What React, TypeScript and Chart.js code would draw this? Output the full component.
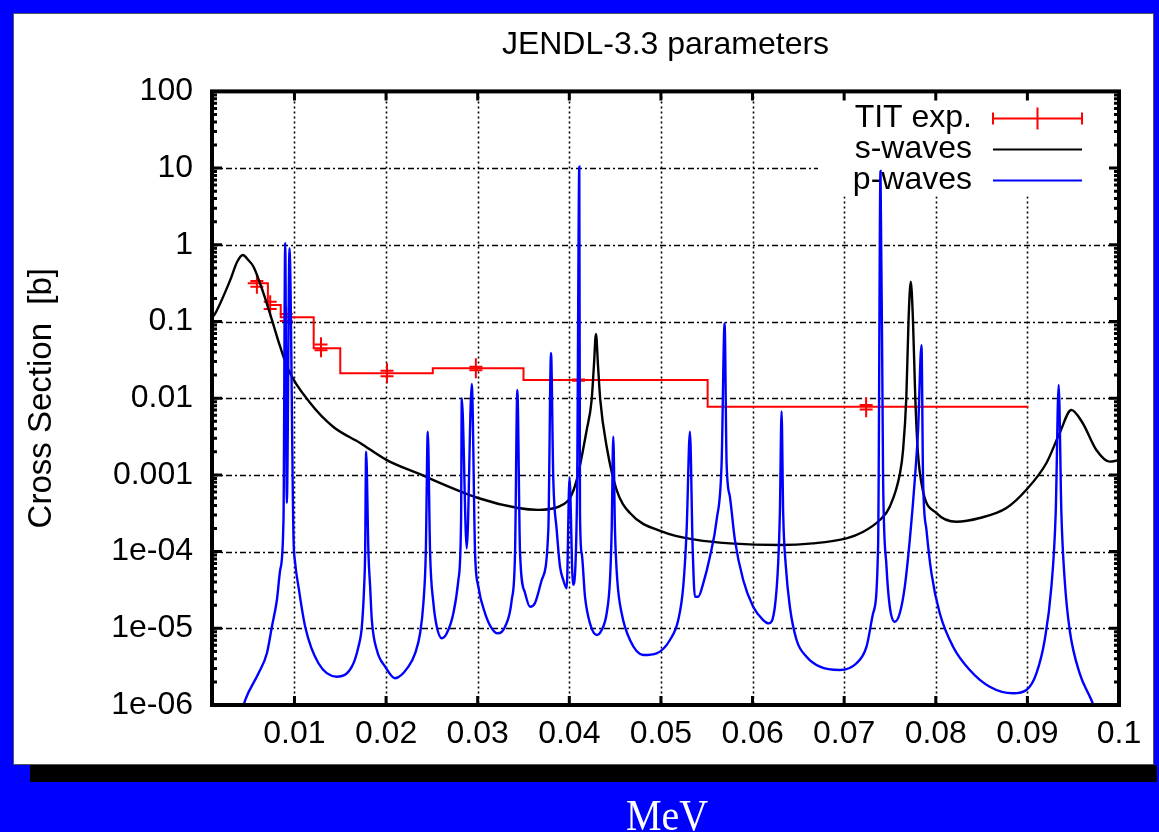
import React, { useEffect, useRef } from "react";
import { Chart, registerables } from "chart.js";

Chart.register(...registerables);

const FONT = "'Liberation Sans', Arial, Helvetica, sans-serif";

// ---- axis ticks ----
const xTickValues = [0.01, 0.02, 0.03, 0.04, 0.05, 0.06, 0.07, 0.08, 0.09, 0.1];
const xTickLabels = ["0.01", "0.02", "0.03", "0.04", "0.05", "0.06", "0.07", "0.08", "0.09", "0.1"];
const yTickValues = [1e-6, 1e-5, 1e-4, 1e-3, 1e-2, 1e-1, 1, 10, 100];
const yTickLabels = ["1e-06", "1e-05", "1e-04", "0.001", "0.01", "0.1", "1", "10", "100"];
const yMinorFactors = [2, 3, 4, 5, 6, 7, 8, 9];

// ---- TIT exp. histogram (step edges and levels) ----
const titStepX = [0.0049, 0.0071, 0.0085, 0.0121, 0.015, 0.0251, 0.035, 0.0551, 0.0901];
const titStepY = [0.315, 0.164, 0.1135, 0.0448, 0.0211, 0.0245, 0.0173, 0.00775, 0.00775];

// ---- TIT exp. measured points ----
const titPointX = [0.0059, 0.00735, 0.0091, 0.0129, 0.0201, 0.0298, 0.041, 0.0724];
const titPointY = [0.31, 0.163, 0.1135, 0.0462, 0.0211, 0.0245, 0.0172, 0.00764];
const titPointErr = [0.027, 0.018, 0.012, 0.0041, 0.0017, 0.0013, 0.0003, 0.0005];

// ---- s-waves ----
const sWaveX = [
  0.001, 0.00135, 0.00299, 0.00375, 0.00437, 0.00495, 0.00553, 0.00662, 0.00754, 0.00844,
  0.00935, 0.01172, 0.01422, 0.01717, 0.02008, 0.02335, 0.03004, 0.0344, 0.03659, 0.03844,
  0.03931, 0.04008, 0.04081, 0.0419, 0.04244, 0.04269, 0.04291, 0.04313, 0.04338, 0.04408,
  0.04517, 0.04662, 0.05022, 0.0539, 0.05753, 0.06298, 0.06658, 0.07026, 0.07204, 0.07389,
  0.07498, 0.0761, 0.07643, 0.07679, 0.07703, 0.07727, 0.07751, 0.07776, 0.07803, 0.07858,
  0.08008, 0.08226, 0.0848, 0.08771, 0.08989, 0.09208, 0.09353, 0.0948, 0.09603, 0.09753,
  0.09898, 0.1,
];
const sWaveY = [
  0.111, 0.127, 0.347, 0.6, 0.736, 0.634, 0.518, 0.233, 0.105, 0.0469,
  0.0233, 0.00865, 0.00425, 0.00261, 0.00156, 0.00106, 0.0005, 0.00037, 0.00035, 0.00037,
  0.00041, 0.0005, 0.00086, 0.00385, 0.0095, 0.0271, 0.069, 0.0271, 0.0095, 0.00233,
  0.000635, 0.000318, 0.000181, 0.000142, 0.000128, 0.000122, 0.000128, 0.000149, 0.00018, 0.000258,
  0.000385, 0.00106, 0.00211, 0.0105, 0.105, 0.33, 0.105, 0.0105, 0.00211, 0.000635,
  0.000318, 0.000245, 0.000274, 0.00037, 0.00064, 0.00143, 0.00352, 0.00702, 0.00475, 0.00211,
  0.00149, 0.00156,
];

// ---- p-waves ----
const pWaveX = [
  0.0041, 0.004625, 0.006076, 0.006992, 0.007538, 0.008083, 0.008443, 0.008803, 0.00899, 0.00917,
  0.00946, 0.009894, 0.010079, 0.010439, 0.01117, 0.012621, 0.014628, 0.016264, 0.016984, 0.017355,
  0.017606, 0.017715, 0.017824, 0.018075, 0.01826, 0.018446, 0.018991, 0.019896, 0.020987, 0.022438,
  0.023169, 0.023714, 0.024074, 0.024336, 0.024554, 0.024805, 0.025165, 0.025536, 0.026081, 0.026627,
  0.027347, 0.027892, 0.028187, 0.028263, 0.028808, 0.029354, 0.029714, 0.030074, 0.030804, 0.031535,
  0.03219, 0.032986, 0.033717, 0.034077, 0.034328, 0.034622, 0.035168, 0.035713, 0.036259, 0.036989,
  0.037709, 0.038004, 0.038255, 0.038626, 0.038986, 0.039346, 0.039716, 0.040022, 0.040404, 0.04084,
  0.041091, 0.041167, 0.041353, 0.041713, 0.042258, 0.042989, 0.043534, 0.04408, 0.04444, 0.044625,
  0.0448, 0.044985, 0.045236, 0.045716, 0.046621, 0.048072, 0.049534, 0.050985, 0.05189, 0.052435,
  0.052806, 0.053166, 0.053461, 0.053712, 0.054072, 0.054617, 0.055348, 0.056079, 0.056624, 0.056951,
  0.057169, 0.057529, 0.058074, 0.05898, 0.060071, 0.061162, 0.061751, 0.062438, 0.062798, 0.062984,
  0.063169, 0.063344, 0.063638, 0.064074, 0.064805, 0.065896, 0.067347, 0.069528, 0.07135, 0.072441,
  0.073161, 0.073706, 0.073968, 0.074252, 0.074622, 0.074982, 0.075528, 0.076073, 0.076619, 0.077164,
  0.077709, 0.078069, 0.07844, 0.078615, 0.078986, 0.079531, 0.080436, 0.081887, 0.083709, 0.08589,
  0.088432, 0.089894, 0.090985, 0.09189, 0.092621, 0.09309, 0.093417, 0.093712, 0.094072, 0.094617,
  0.095708, 0.096984, 0.0975,
];
const pWaveY = [
  7e-7, 1.16e-6, 2.59e-6, 4.72e-6, 1.05e-5, 2.34e-5, 5.76e-5, 2.58e-4, 1.06, 4.3e-4,
  0.9, 1.56e-4, 7.1e-5, 3.49e-5, 1.05e-5, 3.5e-6, 2.34e-6, 3.16e-6, 5.76e-6, 1.05e-5,
  3.49e-5, 9.59e-5, 2.0e-3, 9.59e-5, 3.49e-5, 1.28e-5, 5.21e-6, 3.16e-6, 2.23e-6, 3.16e-6,
  4.72e-6, 8.61e-6, 2.14e-5, 9.59e-5, 3.66e-3, 9.59e-5, 2.14e-5, 1.05e-5, 7.41e-6, 8.61e-6,
  1.57e-5, 4.26e-5, 2.58e-4, 0.01, 1.1e-4, 0.0153, 9.59e-5, 3.49e-5, 1.57e-5, 1.0e-5,
  8.61e-6, 1.05e-5, 2.34e-5, 9.59e-5, 0.0128, 9.59e-5, 2.89e-5, 1.91e-5, 2.14e-5, 4.26e-5,
  1.91e-4, 0.039, 8.58e-4, 1.91e-4, 6.36e-5, 4.26e-5, 3.32e-5, 9.1e-4, 3.7e-5, 4.7e-4,
  10.4, 3.16e-4, 9.5e-5, 2.58e-5, 1.16e-5, 8.18e-6, 9.5e-6, 1.57e-5, 4.26e-5, 1.91e-4,
  3.15e-3, 1.91e-4, 4.26e-5, 1.57e-5, 7.04e-6, 4.49e-6, 4.72e-6, 7.04e-6, 1.28e-5, 3.49e-5,
  1.91e-4, 3.66e-3, 1.16e-4, 2.58e-5, 2.58e-5, 3.86e-5, 8.58e-5, 2.58e-4, 1.42e-3, 0.095,
  1.42e-3, 5.2e-4, 1.42e-4, 4.26e-5, 1.91e-5, 1.28e-5, 1.16e-5, 1.91e-5, 7.04e-5, 3.16e-4,
  6.7e-3, 3.16e-4, 6.36e-5, 1.91e-5, 7.04e-6, 4.26e-6, 3.16e-6, 2.86e-6, 3.5e-6, 5.76e-6,
  1.57e-5, 1.16e-4, 9.2, 8.58e-4, 6.36e-5, 1.91e-5, 1.22e-5, 1.57e-5, 3.49e-5, 1.42e-4,
  8.58e-4, 3.85e-3, 0.049, 8.58e-4, 1.91e-4, 5.21e-5, 1.57e-5, 5.76e-6, 2.86e-6, 1.73e-6,
  1.42e-6, 1.57e-6, 2.59e-6, 7.04e-6, 3.49e-5, 3.16e-4, 0.0149, 3.16e-4, 4.26e-5, 9.5e-6,
  2.59e-6, 1.16e-6, 8e-7,
];

const zip = (xs: number[], ys: number[]) => xs.map((x, i) => ({ x, y: ys[i] }));

const gnuplotPlugin = {
  id: "gnuplotLook",
  beforeDatasetsDraw(chart: any) {
    const { ctx, chartArea: a, scales } = chart;
    const xs = scales.x;
    const ys = scales.y;
    ctx.save();
    ctx.strokeStyle = "#000";
    ctx.lineWidth = 1.6;
    ctx.setLineDash([2, 3]);
    xTickValues.forEach((v) => {
      const px = Math.round(xs.getPixelForValue(v)) + 0.5;
      if (px > a.right - 4) return;
      ctx.beginPath();
      ctx.moveTo(px, a.top);
      ctx.lineTo(px, a.bottom);
      ctx.stroke();
    });
    ctx.setLineDash([6, 3, 2, 3]);
    yTickValues.forEach((v) => {
      const py = Math.round(ys.getPixelForValue(v)) + 0.5;
      if (py < a.top + 4 || py > a.bottom - 4) return;
      ctx.beginPath();
      ctx.moveTo(a.left, py);
      ctx.lineTo(a.right, py);
      ctx.stroke();
    });
    ctx.setLineDash([]);
    const kw = 301;
    ctx.fillStyle = "#fff";
    ctx.fillRect(a.right - kw, a.top, kw, 105);
    ctx.font = `32px ${FONT}`;
    ctx.textAlign = "right";
    ctx.textBaseline = "middle";
    const keyed = chart.data.datasets.filter((d: any) => d.inKey);
    keyed.forEach((d: any, i: number) => {
      const ty = a.top + 27 + i * 31;
      ctx.fillStyle = "#000";
      ctx.fillText(d.label, a.right - 147, ty);
      const x0 = a.right - 126;
      const x1 = a.right - 37;
      ctx.strokeStyle = d.borderColor;
      ctx.lineWidth = 2;
      ctx.beginPath();
      ctx.moveTo(x0, ty);
      ctx.lineTo(x1, ty);
      if (d.keyErrorBar) {
        ctx.moveTo(x0, ty - 6);
        ctx.lineTo(x0, ty + 6);
        ctx.moveTo(x1, ty - 6);
        ctx.lineTo(x1, ty + 6);
        const xm = (x0 + x1) / 2;
        ctx.moveTo(xm, ty - 11);
        ctx.lineTo(xm, ty + 11);
      }
      ctx.stroke();
    });
    ctx.restore();
  },
  afterDatasetDraw(chart: any, args: any) {
    const ds = chart.data.datasets[args.index];
    if (!ds.errorBars) return;
    const { ctx, chartArea: a, scales } = chart;
    const xs = scales.x;
    const ys = scales.y;
    ctx.save();
    ctx.beginPath();
    ctx.rect(a.left, a.top, a.right - a.left, a.bottom - a.top);
    ctx.clip();
    ctx.strokeStyle = "#ff0000";
    ctx.lineWidth = 2;
    titPointX.forEach((xv, i) => {
      const px = xs.getPixelForValue(xv);
      const py = ys.getPixelForValue(titPointY[i]);
      const yHi = ys.getPixelForValue(titPointY[i] + titPointErr[i]);
      const yLo = ys.getPixelForValue(titPointY[i] - titPointErr[i]);
      ctx.beginPath();
      ctx.moveTo(px, Math.min(py - 10, yHi));
      ctx.lineTo(px, Math.max(py + 10, yLo));
      ctx.moveTo(px - 6.5, yHi);
      ctx.lineTo(px + 6.5, yHi);
      ctx.moveTo(px - 6.5, yLo);
      ctx.lineTo(px + 6.5, yLo);
      ctx.stroke();
    });
    ctx.restore();
  },
  afterDatasetsDraw(chart: any) {
    const { ctx, chartArea: a, scales } = chart;
    const xs = scales.x;
    const ys = scales.y;
    ctx.save();
    ctx.strokeStyle = "#000";
    ctx.lineWidth = 3;
    xTickValues.forEach((v) => {
      const px = xs.getPixelForValue(v);
      if (px > a.right - 4) return;
      ctx.beginPath();
      ctx.moveTo(px, a.bottom);
      ctx.lineTo(px, a.bottom - 9);
      ctx.moveTo(px, a.top);
      ctx.lineTo(px, a.top + 9);
      ctx.stroke();
    });
    yTickValues.forEach((v, i) => {
      const py = ys.getPixelForValue(v);
      ctx.beginPath();
      ctx.moveTo(a.left, py);
      ctx.lineTo(a.left + 10, py);
      ctx.moveTo(a.right, py);
      ctx.lineTo(a.right - 10, py);
      ctx.stroke();
      if (i < yTickValues.length - 1) {
        yMinorFactors.forEach((f) => {
          const pm = ys.getPixelForValue(v * f);
          ctx.beginPath();
          ctx.moveTo(a.left, pm);
          ctx.lineTo(a.left + 5, pm);
          ctx.moveTo(a.right, pm);
          ctx.lineTo(a.right - 5, pm);
          ctx.stroke();
        });
      }
    });
    ctx.lineWidth = 4;
    ctx.strokeRect(a.left, a.top, a.right - a.left, a.bottom - a.top);
    ctx.restore();
  },
};

export default function App() {
  const canvasRef = useRef<HTMLCanvasElement | null>(null);

  useEffect(() => {
    if (!canvasRef.current) return;
    const chart = new Chart(canvasRef.current, {
      type: "line",
      data: {
        datasets: [
          {
            label: "TIT exp.",
            data: zip(titStepX, titStepY),
            borderColor: "#ff0000",
            borderWidth: 2,
            stepped: "before",
            pointRadius: 0,
            order: 3,
            inKey: true,
            keyErrorBar: true,
          } as any,
          {
            label: "TIT exp. data",
            data: zip(titPointX, titPointY),
            showLine: false,
            pointRadius: 0,
            borderColor: "#ff0000",
            order: 3,
            errorBars: true,
          } as any,
          {
            label: "s-waves",
            data: zip(sWaveX, sWaveY),
            borderColor: "#000000",
            borderWidth: 2.4,
            pointRadius: 0,
            cubicInterpolationMode: "monotone",
            order: 2,
            inKey: true,
          } as any,
          {
            label: "p-waves",
            data: zip(pWaveX, pWaveY),
            borderColor: "#0000ff",
            borderWidth: 2.4,
            pointRadius: 0,
            cubicInterpolationMode: "monotone",
            order: 1,
            inKey: true,
          } as any,
        ],
      },
      options: {
        animation: false,
        responsive: false,
        maintainAspectRatio: false,
        devicePixelRatio: 1,
        events: [],
        layout: { padding: { left: 14, right: 40, top: 14, bottom: 77 } },
        plugins: {
          legend: { display: false },
          tooltip: { enabled: false },
          title: {
            display: true,
            text: "JENDL-3.3 parameters",
            fullSize: false,
            color: "#000",
            font: { family: FONT, size: 32, weight: "normal" },
            padding: { top: 12, bottom: 27 },
          },
        },
        scales: {
          x: {
            type: "linear",
            min: 0.001,
            max: 0.1,
            grid: { display: false, drawTicks: false },
            border: { display: false },
            ticks: {
              color: "#000",
              font: { family: FONT, size: 32 },
              padding: 10,
              maxRotation: 0,
              minRotation: 0,
              autoSkip: false,
              callback: (_v: any, i: number) => xTickLabels[i],
            },
            afterBuildTicks: (s: any) => {
              s.ticks = xTickValues.map((v) => ({ value: v }));
            },
            afterFit: (s: any) => {
              s.height = 50;
            },
          },
          y: {
            type: "logarithmic",
            min: 1e-6,
            max: 100,
            grid: { display: false, drawTicks: false },
            border: { display: false },
            ticks: {
              color: "#000",
              font: { family: FONT, size: 32 },
              padding: 19,
              autoSkip: false,
              callback: (_v: any, i: number) => yTickLabels[i],
            },
            afterBuildTicks: (s: any) => {
              s.ticks = yTickValues.map((v) => ({ value: v, major: true }));
            },
            afterFit: (s: any) => {
              s.width = 198;
            },
            title: {
              display: true,
              text: "Cross Section  [b]",
              color: "#000",
              font: { family: FONT, size: 33, weight: "normal" },
              padding: { top: 8, bottom: 0 },
            },
          },
        },
      } as any,
      plugins: [gnuplotPlugin],
    });
    return () => chart.destroy();
  }, []);

  return (
    <div
      style={{
        position: "fixed",
        left: 0,
        top: 0,
        width: 1159,
        height: 832,
        overflow: "hidden",
        background: "#0000ff",
      }}
    >
      <div style={{ position: "absolute", left: 30, top: 765, width: 1127, height: 17, background: "#000" }} />
      <div
        style={{
          position: "absolute",
          left: 13,
          top: 13,
          width: 1141,
          height: 752,
          background: "#fff",
          boxSizing: "border-box",
          border: "1px solid #555",
        }}
      />
      <canvas
        ref={canvasRef}
        width={1159}
        height={832}
        style={{ position: "absolute", left: 0, top: 0, width: 1159, height: 832 }}
      />
      <div
        style={{
          position: "absolute",
          left: 567,
          top: 798,
          width: 200,
          textAlign: "center",
          color: "#fff",
          fontFamily: "'Liberation Serif', 'Times New Roman', serif",
          fontSize: 40,
          lineHeight: "40px",
          transform: "scaleY(1.13)",
          transformOrigin: "center bottom",
        }}
      >
        MeV
      </div>
    </div>
  );
}
